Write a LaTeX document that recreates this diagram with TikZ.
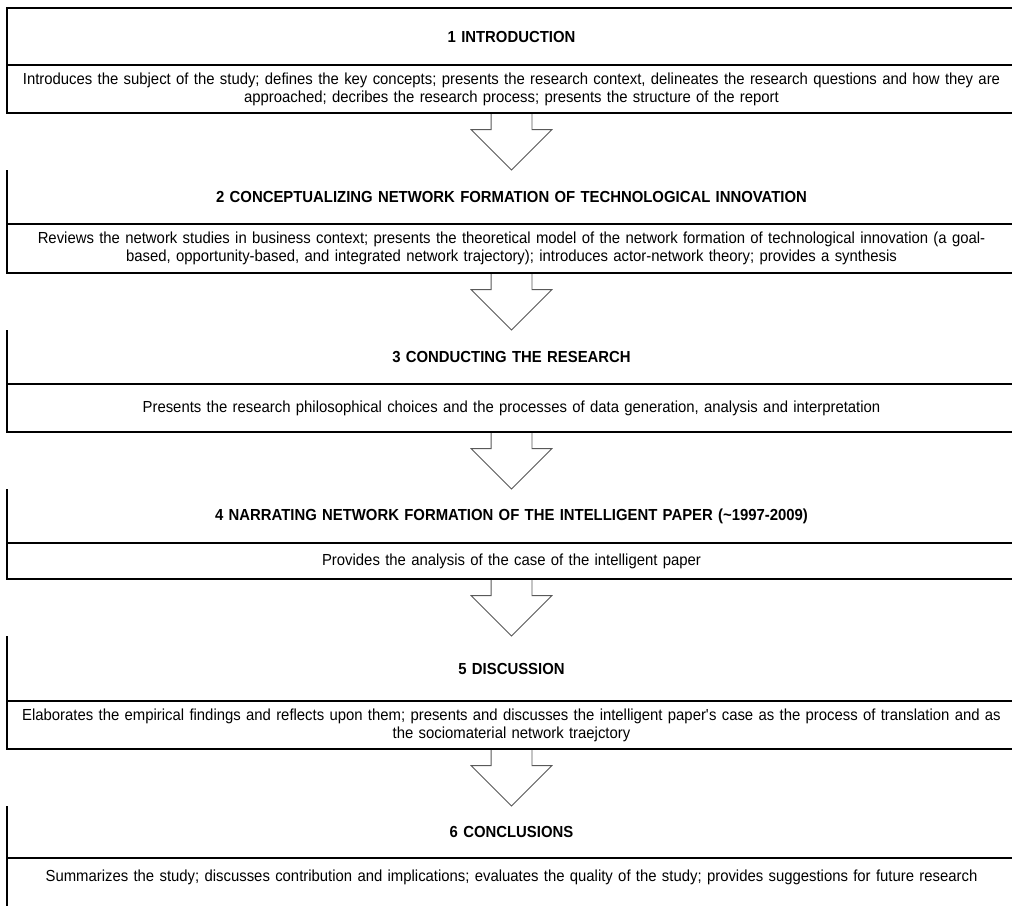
\documentclass[tikz,border=0pt]{standalone}
\usepackage{fontspec}
\setmainfont{Liberation Sans}[FakeStretch=0.93]
\usepackage{tikz}
\usetikzlibrary{positioning,shapes.arrows,backgrounds}

\begin{document}
\begin{tikzpicture}[
  x=1pt, y=1pt,
  headbox/.style={rectangle, minimum width=1009pt, text width=995pt, align=center,
                  font=\fontsize{16}{18}\selectfont\bfseries, inner sep=0pt, outer sep=0pt},
  descbox/.style={rectangle, draw, line width=1.5pt, minimum width=1009pt, text width=995pt,
                  align=center, font=\fontsize{16}{18}\selectfont, inner sep=0pt, outer sep=0pt},
  headline/.style={line width=1.2pt},
  flow/.style={single arrow, draw=black!65, line width=0.8pt, fill=white, rotate=-90,
               single arrow head extend=20pt, inner xsep=0pt, inner ysep=20pt, outer sep=0pt,
               minimum height=57pt, anchor=tail}
]
  \useasboundingbox (0,0) rectangle (1012,-905);

  % Chapter 1 (framed heading)
  \node[headbox, draw, headline, minimum height=57pt, anchor=north west] (h1) at (7,-8)
    {1 INTRODUCTION};
  \node[descbox, minimum height=48pt, below=0pt of h1] (d1)
    {Introduces the subject of the study; defines the key concepts; presents the research context, delineates the research questions and how they are\\
     approached; decribes the research process; presents the structure of the report};
  \begin{pgfonlayer}{background}
    \node[flow] (a1) at (d1.south) {};
  \end{pgfonlayer}

  % Chapter 2
  \node[headbox, minimum height=54pt, anchor=north] (h2) at (a1.tip)
    {2 CONCEPTUALIZING NETWORK FORMATION OF TECHNOLOGICAL INNOVATION};
  \node[descbox, minimum height=49pt, below=0pt of h2] (d2)
    {Reviews the network studies in business context; presents the theoretical model of the network formation of technological innovation (a goal-\\
     based, opportunity-based, and integrated network trajectory); introduces actor-network theory; provides a synthesis};
  \begin{pgfonlayer}{background}
    \node[flow] (a2) at (d2.south) {};
  \end{pgfonlayer}

  % Chapter 3
  \node[headbox, minimum height=54pt, anchor=north] (h3) at (a2.tip)
    {3 CONDUCTING THE RESEARCH};
  \node[descbox, minimum height=48pt, below=0pt of h3] (d3)
    {Presents the research philosophical choices and the processes of data generation, analysis and interpretation};
  \begin{pgfonlayer}{background}
    \node[flow] (a3) at (d3.south) {};
  \end{pgfonlayer}

  % Chapter 4
  \node[headbox, minimum height=54pt, anchor=north] (h4) at (a3.tip)
    {4 NARRATING NETWORK FORMATION OF THE INTELLIGENT PAPER (\textasciitilde1997-2009)};
  \node[descbox, minimum height=36pt, below=0pt of h4] (d4)
    {Provides the analysis of the case of the intelligent paper};
  \begin{pgfonlayer}{background}
    \node[flow] (a4) at (d4.south) {};
  \end{pgfonlayer}

  % Chapter 5
  \node[headbox, minimum height=65pt, anchor=north] (h5) at (a4.tip)
    {5 DISCUSSION};
  \node[descbox, minimum height=48pt, below=0pt of h5] (d5)
    {Elaborates the empirical findings and reflects upon them; presents and discusses the intelligent paper\textquotesingle s case as the process of translation and as\\
     the sociomaterial network traejctory};
  \begin{pgfonlayer}{background}
    \node[flow] (a5) at (d5.south) {};
  \end{pgfonlayer}

  % Chapter 6 (runs off the page)
  \node[headbox, minimum height=52pt, anchor=north] (h6) at (a5.tip)
    {6 CONCLUSIONS};
  \node[descbox, minimum height=54pt, below=0pt of h6] (d6)
    {Summarizes the study; discusses contribution and implications; evaluates the quality of the study; provides suggestions for future research\\
     \vphantom{S}};

  % Left rules of the open headings
  \draw[headline] (h2.north west) -- (h2.south west);
  \draw[headline] (h3.north west) -- (h3.south west);
  \draw[headline] (h4.north west) -- (h4.south west);
  \draw[headline] (h5.north west) -- (h5.south west);
  \draw[headline] (h6.north west) -- (h6.south west);
\end{tikzpicture}
\end{document}
